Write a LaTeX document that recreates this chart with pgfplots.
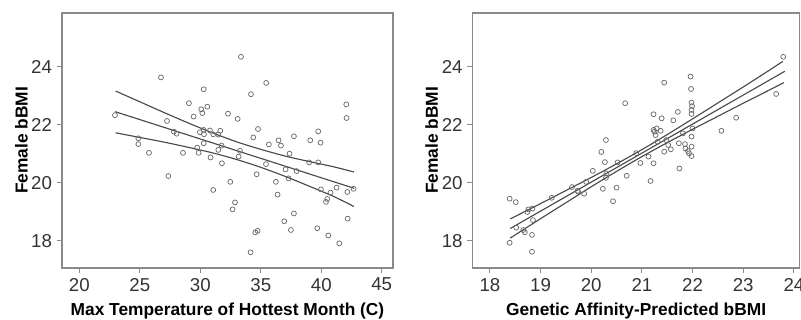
\documentclass[border=0pt]{standalone}
\usepackage{fontspec}
\setmainfont{Liberation Sans}
\usepackage{pgfplots}
\pgfplotsset{compat=1.18}
\definecolor{boxgray}{HTML}{8A8A8A}
\definecolor{linegray}{HTML}{4A4A4A}
\definecolor{markgray}{HTML}{6A6A6A}
\definecolor{textgray}{HTML}{333333}
\pgfplotsset{
  myax/.style={
    scale only axis,
    height=191.25pt,
    ymin=17.06, ymax=25.85,
    ytick={18,20,22,24},
    tick pos=left,
    tick align=outside,
    major tick length=4pt,
    axis line style={boxgray, line width=1.1pt},
    every tick/.style={boxgray, line width=0.8pt},
    tick label style={font=\fontsize{14}{16}\selectfont, text=textgray},
    /pgf/number format/assume math mode=true,
    label style={font=\fontsize{13}{15}\selectfont\bfseries, inner sep=0pt},
    ylabel style={anchor=south},
    xlabel style={anchor=north},
    ylabel={Female bBMI},
    clip=false,
  },
  dots/.style={only marks, mark=o, mark size=1.85pt, mark options={draw=markgray, line width=0.55pt}},
  fit/.style={no marks, linegray, line width=0.85pt},
}
\begin{document}
\begin{tikzpicture}
\useasboundingbox (0,0) rectangle (600.75pt,240pt);
\begin{axis}[myax,
  at={(46.5pt,39pt)}, anchor=south west,
  width=248.25pt,
  xmin=18.57, xmax=45.93,
  xtick={20,25,30,35,40,45},
  xlabel={Max Temperature of Hottest Month (C)},
  xlabel style={at={(axis description cs:0.5,-0.136)}},
  ylabel style={at={(axis description cs:-0.1027,0.5)}},
]
\addplot[dots] coordinates {
(22.95,22.33) (26.75,23.63) (24.88,21.53) (24.88,21.33) (25.76,21.03)
(27.36,20.23) (27.25,22.13) (27.82,21.76) (28.04,21.69) (28.57,21.03)
(29.06,22.74) (29.45,22.28) (29.75,21.21) (29.86,21.03) (30.08,22.53)
(30.17,22.40) (30.28,23.22) (30.58,22.62) (29.97,21.74) (30.28,21.82)
(30.30,21.67) (30.28,21.36) (30.80,21.80) (30.85,20.87) (31.07,21.67)
(31.49,21.66) (31.65,21.79) (31.49,21.13) (31.76,21.28) (31.79,20.67)
(31.07,19.75) (32.29,22.38) (32.48,20.03) (32.67,19.08) (32.87,19.32)
(33.09,22.20) (33.17,20.90) (33.28,21.10) (33.36,24.34) (34.19,23.05)
(34.16,17.60) (34.38,21.56) (34.55,18.29) (34.74,18.34) (34.66,20.29)
(34.77,21.85) (35.45,23.44) (35.43,20.64) (35.67,21.32) (36.25,20.03)
(36.39,19.59) (36.47,21.46) (36.67,21.28) (36.94,18.67) (37.05,20.46)
(37.30,20.15) (37.38,21.00) (37.49,18.37) (37.74,18.94) (37.74,21.60)
(37.96,20.40) (39.00,20.70) (39.09,21.46) (39.67,18.43) (39.75,21.77)
(39.75,20.70) (39.94,21.38) (39.97,19.77) (40.39,19.34) (40.50,19.44)
(40.58,18.18) (40.77,19.66) (41.27,19.83) (41.49,17.91) (42.07,22.70)
(42.09,22.23) (42.15,19.68) (42.18,18.76) (42.67,19.79)
};
\addplot[fit] coordinates {(22.95,22.45) (42.7,19.81)};
\addplot[fit, smooth] coordinates {
(23,23.16) (25,22.79) (27,22.42) (29,22.06) (31,21.72) (33,21.41)
(35,21.15) (37,20.92) (39,20.73) (41,20.55) (42.7,20.37)};
\addplot[fit, smooth] coordinates {
(23,21.72) (25,21.56) (27,21.40) (29,21.22) (31,21.03) (33,20.80)
(35,20.53) (37,20.22) (39,19.88) (41,19.53) (42.7,19.18)};
\end{axis}
\begin{axis}[myax,
  at={(354.5pt,39pt)}, anchor=south west,
  width=245.1pt,
  xmin=17.66, xmax=24.11,
  xtick={18,19,20,21,22,23,24},
  xlabel={Genetic Affinity-Predicted bBMI},
  xlabel style={at={(axis description cs:0.5,-0.136)}},
  ylabel style={at={(axis description cs:-0.105,0.5)}},
]
\addplot[dots] coordinates {
(18.39,19.45) (18.51,19.33) (18.52,18.45) (18.39,17.93) (18.74,18.99)
(18.66,18.37) (18.69,18.29) (18.76,19.08) (18.84,19.11) (18.85,18.71)
(18.83,18.20) (18.83,17.62) (19.22,19.48) (19.62,19.85) (19.73,19.72)
(19.74,19.69) (19.86,19.62) (19.90,20.03) (20.03,20.41) (20.20,21.06)
(20.23,19.79) (20.27,20.71) (20.29,21.47) (20.30,20.32) (20.29,20.17)
(20.43,19.36) (20.50,19.83) (20.52,20.70) (20.67,22.74) (20.70,20.24)
(20.89,21.02) (20.97,20.68) (21.13,20.90) (21.17,20.06) (21.23,22.36)
(21.23,20.67) (21.23,21.82) (21.25,21.76) (21.27,21.64) (21.31,21.41)
(21.29,21.87) (21.39,22.22) (21.37,21.79) (21.44,23.45) (21.44,21.07)
(21.48,21.47) (21.52,21.30) (21.57,21.15) (21.62,22.15) (21.71,22.44)
(21.73,21.36) (21.74,20.49) (21.81,21.70) (21.85,21.33) (21.86,21.18)
(21.91,21.09) (21.96,23.66) (21.97,23.23) (21.98,22.76) (21.99,22.64)
(21.98,22.51) (21.98,22.37) (22.00,21.87) (21.98,21.59) (21.98,21.24)
(21.98,20.92) (21.93,21.01) (22.57,21.79) (22.86,22.24) (23.65,23.06)
(23.79,24.34)
};
\addplot[fit] coordinates {(18.4,18.42) (23.82,23.84)};
\addplot[fit, smooth] coordinates {
(18.4,18.75) (19,19.28) (19.5,19.73) (20,20.18) (20.5,20.65) (21,21.14)
(21.5,21.66) (22,22.20) (22.5,22.75) (23,23.30) (23.5,23.86) (23.78,24.18)};
\addplot[fit, smooth] coordinates {
(18.4,18.09) (19,18.76) (19.5,19.31) (20,19.86) (20.5,20.39) (21,20.90)
(21.5,21.38) (22,21.84) (22.5,22.29) (23,22.74) (23.5,23.18) (23.8,23.45)};
\end{axis}
\end{tikzpicture}
\end{document}
